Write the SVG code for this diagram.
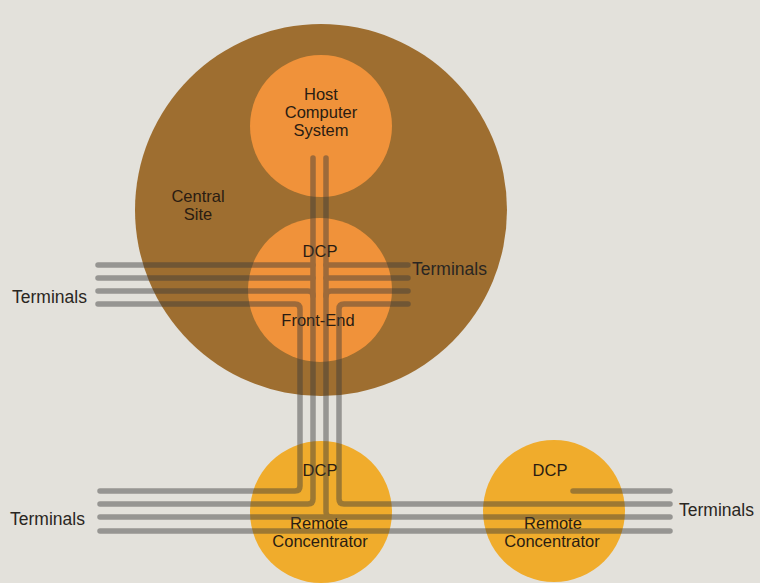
<svg xmlns="http://www.w3.org/2000/svg" width="760" height="583" viewBox="0 0 760 583">
<style>
.lbl{font-family:"Liberation Sans",Arial,sans-serif;font-size:16.5px;fill:#2a1c12;text-anchor:middle}
.term{font-family:"Liberation Sans",Arial,sans-serif;font-size:17.5px;fill:#2a2622}
.site{fill:#9e6e30}
.orange{fill:#f0923a}
.yellow{fill:#f0ac2c}
.wire{fill:none;stroke:#3a3a3a;stroke-width:5.5;stroke-linecap:round;stroke-linejoin:round}
</style>
<rect width="760" height="583" fill="#e3e1db"/>
<g id="central-site">
  <circle class="site" cx="321" cy="210" r="186"/>
  <text class="lbl" x="198" y="202">Central</text>
  <text class="lbl" x="198" y="220">Site</text>
</g>
<g id="host">
  <circle class="orange" cx="321" cy="126" r="71"/>
  <text class="lbl" x="321" y="100">Host</text>
  <text class="lbl" x="321" y="118">Computer</text>
  <text class="lbl" x="321" y="136">System</text>
</g>
<g id="front-end">
  <circle class="orange" cx="320" cy="290" r="72"/>
  <text class="lbl" x="320" y="257">DCP</text>
  <text class="lbl" x="318" y="326">Front-End</text>
</g>
<g id="remote-1">
  <circle class="yellow" cx="321" cy="512" r="71"/>
  <text class="lbl" x="320" y="476">DCP</text>
  <text class="lbl" x="319" y="529">Remote</text>
  <text class="lbl" x="320" y="547">Concentrator</text>
</g>
<g id="remote-2">
  <circle class="yellow" cx="554" cy="511" r="71"/>
  <text class="lbl" x="550" y="476">DCP</text>
  <text class="lbl" x="553" y="529">Remote</text>
  <text class="lbl" x="552" y="547">Concentrator</text>
</g>
<g id="connectors" class="wire" opacity="0.45">
  <path d="M98,265 H313"/>
  <path d="M98,278 H313"/>
  <path d="M98,291 H308 Q313,291 313,296"/>
  <path d="M98,304 H295 Q300,304 300,309 V486 Q300,491 295,491 H100"/>
  <path d="M408,265 H326"/>
  <path d="M408,278 H326"/>
  <path d="M408,291 H331 Q326,291 326,296"/>
  <path d="M408,304 H344 Q339,304 339,309 V499 Q339,504 344,504 H670"/>
  <path d="M313,158 V499 Q313,504 308,504 H100"/>
  <path d="M326,158 V512 Q326,517 331,517"/>
  <path d="M100,517 H670"/>
  <path d="M100,531 H670"/>
  <path d="M573,491 H670"/>
</g>
<g id="terminal-labels">
  <text class="term" x="12" y="303">Terminals</text>
  <text class="term" x="412" y="275">Terminals</text>
  <text class="term" x="10" y="525">Terminals</text>
  <text class="term" x="679" y="516">Terminals</text>
</g>
</svg>
